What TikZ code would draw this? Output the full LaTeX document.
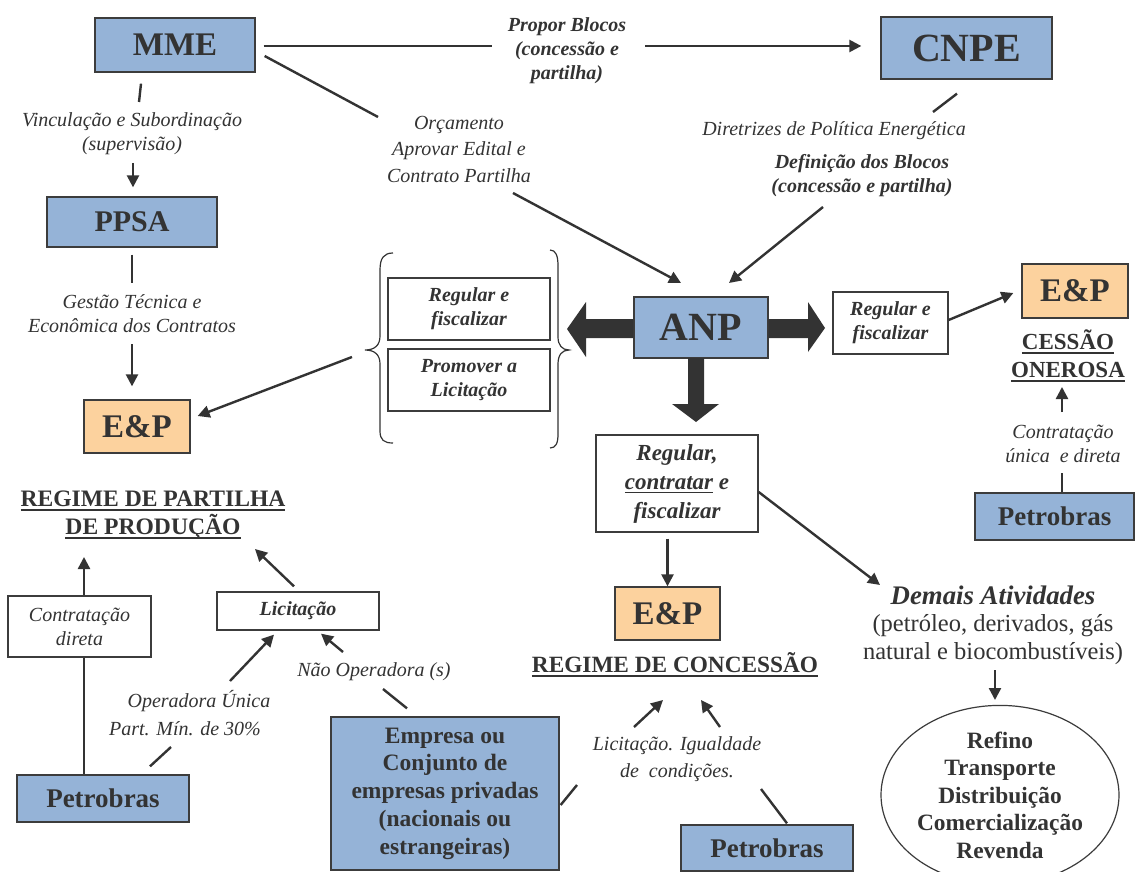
\documentclass[tikz,border=0pt]{standalone}
\usepackage{fontspec}
\setmainfont{Liberation Serif}
\usetikzlibrary{arrows.meta,shapes.geometric}
\definecolor{bx}{HTML}{95B3D7}
\definecolor{orx}{HTML}{FCD29E}
\definecolor{ink}{HTML}{333333}
\definecolor{edgec}{HTML}{3C3C3C}
\newcommand\myfs[2]{\fontsize{#1}{#2}\selectfont}
\newcommand\ulx[1]{\setbox0\hbox{#1}\rlap{\vrule height -2.6pt depth 4.4pt width \wd0}\box0{}}
\tikzset{
  box/.style={draw=edgec, line width=1.3pt, text=ink, inner sep=0pt, align=center},
  bluebox/.style={box, fill=bx},
  orbox/.style={box, fill=orx},
  whbox/.style={box, fill=white},
  lbl/.style={text=ink, inner sep=0pt, align=center},
  con/.style={draw=ink, line width=2.4pt},
  arr/.style={con, -{Triangle[length=12pt,width=12pt]}},
  thick arrow/.style={fill=ink, draw=none},
  brace/.style={draw=ink, line width=1.2pt}
}
\begin{document}
\begin{tikzpicture}[x=1pt,y=-1pt]
\useasboundingbox (0,0) rectangle (1136,872);
\fill[white] (0,0) rectangle (1136,872);

% ---------- main boxes
\node[bluebox, minimum width=160pt, minimum height=54pt, font=\bfseries\myfs{33}{36}] (mme) at (175,45) {MME};
\node[bluebox, minimum width=171pt, minimum height=62pt, font=\bfseries\myfs{40}{44}] (cnpe) at (966.5,48) {CNPE};
\node[bluebox, minimum width=170pt, minimum height=50pt, font=\bfseries\myfs{30}{32}] (ppsa) at (132,222) {PPSA};
\node[orbox, minimum width=106pt, minimum height=53pt, font=\bfseries\myfs{33}{34}] (epl) at (137,426.5) {E\&P};
\node[bluebox, minimum width=134pt, minimum height=61pt, font=\bfseries\myfs{40}{42}] (anp) at (701,327.5) {ANP};
\node[whbox, minimum width=115pt, minimum height=62pt, font=\bfseries\itshape\myfs{20}{24}] (rfr) at (890.5,323) {Regular e\\fiscalizar};
\node[orbox, minimum width=106pt, minimum height=54pt, font=\bfseries\myfs{33}{34}] (epr) at (1075,291) {E\&P};
\node[bluebox, minimum width=159pt, minimum height=47pt, font=\bfseries\myfs{27}{30}] (petr) at (1054.5,516.5) {Petrobras};
\node[whbox, minimum width=162pt, minimum height=97pt, font=\bfseries\itshape\myfs{23}{29}] (rcf) at (677,483.5) {Regular,\\\ulx{contratar} e\\fiscalizar};
\node[orbox, minimum width=105pt, minimum height=53pt, font=\bfseries\myfs{33}{34}] (epc) at (667.5,613.5) {E\&P};
\node[whbox, minimum width=162pt, minimum height=62pt, font=\bfseries\itshape\myfs{20}{24}] (rf1) at (469,309) {Regular e\\fiscalizar};
\node[whbox, minimum width=162pt, minimum height=62pt, font=\bfseries\itshape\myfs{20}{24}] (prl) at (469,380) {Promover a\\Licitação};
\node[whbox, minimum width=143pt, minimum height=61pt, font=\itshape\myfs{20}{24}] (cd) at (79.5,626.5) {Contratação\\direta};
\node[whbox, minimum width=162pt, minimum height=38pt, font=\bfseries\itshape\myfs{20}{22}] (lic) at (298,611) {Licitação};
\node[bluebox, minimum width=172pt, minimum height=47pt, font=\bfseries\myfs{27}{30}] (petl) at (103,798.5) {Petrobras};
\node[bluebox, minimum width=228pt, minimum height=153pt, font=\bfseries\myfs{23.5}{27.7}] (emp) at (445,793.5) {Empresa ou\\Conjunto de\\empresas privadas\\(nacionais ou\\estrangeiras)};
\node[bluebox, minimum width=172pt, minimum height=46pt, font=\bfseries\myfs{27}{30}] (petb) at (767,848) {Petrobras};
\node[box, ellipse, fill=white, line width=1.2pt, minimum width=238pt, minimum height=170pt, font=\bfseries\myfs{23.4}{27.5}] (ell) at (1000,795) {Refino\\Transporte\\Distribuição\\Comercialização\\Revenda};

% ---------- labels
\node[lbl, font=\bfseries\itshape\myfs{20}{24}] (propor) at (567,51) {Propor Blocos\\(concessão e\\partilha)};
\node[lbl, font=\itshape\myfs{20}{26.5}] (orc) at (459,149) {Orçamento\\Aprovar Edital e\\Contrato Partilha};
\node[lbl, font=\itshape\myfs{20}{24}] (dir) at (834,131) {Diretrizes de Política Energética};
\node[lbl, font=\bfseries\itshape\myfs{20}{24}] (def) at (862,176) {Definição dos Blocos\\(concessão e partilha)};
\node[lbl, font=\itshape\myfs{20}{24}] (vinc) at (132,134) {Vinculação e Subordinação\\(supervisão)};
\node[lbl, font=\itshape\myfs{20}{24}] (gest) at (132,314) {Gestão Técnica e\\Econômica dos Contratos};
\node[lbl, font=\bfseries\myfs{23.6}{28}] (regpart) at (153,515) {\ulx{REGIME DE PARTILHA}\\\ulx{DE PRODUÇÃO}};
\node[lbl, font=\bfseries\myfs{23}{28}] (cess) at (1068,356) {\ulx{CESSÃO}\\\ulx{ONEROSA}};
\node[lbl, font=\itshape\myfs{20}{24}] (cunica) at (1063,444) {Contratação\\única\ \ e direta};
\node[lbl, font=\bfseries\myfs{23.3}{28}] (regconc) at (675,665) {\ulx{REGIME DE CONCESSÃO}};
\node[lbl, font=\bfseries\itshape\myfs{26.8}{28}] (demais) at (993,595) {Demais Atividades};
\node[lbl, font=\myfs{24.5}{28}] (paren) at (993,640) {(petróleo, derivados, gás\\natural e biocombustíveis)};
\node[lbl, font=\itshape\myfs{20}{24}] (opu) at (199,701) {Operadora Única};
\node[lbl, font=\itshape\myfs{20}{24}] (part) at (185,729) {Part. Mín. de 30\%};
\node[lbl, font=\itshape\myfs{20}{24}] (naoop) at (374,672) {Não Operadora (s)};
\node[lbl, font=\itshape\myfs{20}{27}] (licig) at (677,759) {Licitação. Igualdade\\de\ \ condições.};

% ---------- connector end points
\coordinate (c1) at (492,46);  \coordinate (c2) at (645,46);
\coordinate (c3) at (378,117); \coordinate (c4) at (513,193); \coordinate (c5) at (681,283);
\coordinate (c6) at (933,112); \coordinate (c7) at (823,207); \coordinate (c8) at (729,283);
\coordinate (c9) at (139,102); \coordinate (c10) at (133,163);
\coordinate (c11) at (132,283); \coordinate (c12) at (132,344);
\coordinate (c13) at (352,357);
\coordinate (c14) at (1062,473); \coordinate (c15) at (1062,412); \coordinate (c15b) at (1062,387);
\coordinate (c16) at (880,585);
\coordinate (c17) at (995,670); \coordinate (c18) at (995,700);
\coordinate (c19) at (84,557);
\coordinate (c20) at (255,549);
\coordinate (c21) at (230,681); \coordinate (c22) at (171,747);
\coordinate (c23) at (343,652); \coordinate (c24) at (383,689);
\coordinate (c25) at (577,785); \coordinate (c26) at (634,727); \coordinate (c27) at (663,700);
\coordinate (c28) at (720,727); \coordinate (c29) at (701,700); \coordinate (c30) at (761,789);

% ---------- connectors
\draw[con] ([xshift=8pt,yshift=-1pt]mme.east) -- (c1);
\draw[arr] (c2) -- ([xshift=-19pt,yshift=2pt]cnpe.west);
\draw[con] ([xshift=9pt,yshift=-11pt]mme.east) -- (c3);
\draw[arr] (c4) -- (c5);
\draw[con] ([xshift=-9.5pt,yshift=-14pt]cnpe.south) -- (c6);
\draw[arr] (c7) -- (c8);
\draw[con] ([xshift=-34pt,yshift=-11pt]mme.south) -- (c9);
\draw[arr] (c10) -- ([xshift=1pt,yshift=9pt]ppsa.north);
\draw[con] ([yshift=-7pt]ppsa.south) -- (c11);
\draw[arr] (c12) -- ([xshift=-5pt,yshift=13pt]epl.north);
\draw[arr] (c13) -- ([xshift=7pt,yshift=10.5pt]epl.east);
\draw[arr] ([yshift=3pt]rfr.east) -- ([xshift=-8pt,yshift=-2pt]epr.west);
\draw[con] ([xshift=7.5pt]petr.north) -- (c14);
\draw[arr] (c15) -- (c15b);
\draw[arr] ([yshift=-6pt]rcf.south -| epc.north) -- (epc.north);
\draw[arr] ([yshift=-8.5pt]rcf.east) -- (c16);
\draw[arr] (c17) -- (c18);
\draw[arr] ([xshift=4.5pt]cd.north) -- (c19);
\draw[con] ([xshift=4.5pt]cd.south) -- ([xshift=-19pt]petl.north);
\draw[arr] ([yshift=5pt,xshift=-4pt]lic.north) -- (c20);
\draw[arr] (c21) -- ([xshift=-24pt,yshift=-4pt]lic.south);
\draw[con] ([xshift=47pt,yshift=8pt]petl.north) -- (c22);
\draw[arr] (c23) -- ([xshift=23pt,yshift=-3pt]lic.south);
\draw[con] (c24) -- ([xshift=-38pt,yshift=8pt]emp.north);
\draw[con] ([xshift=1pt,yshift=-11.5pt]emp.east) -- (c25);
\draw[arr] (c26) -- (c27);
\draw[arr] (c28) -- (c29);
\draw[con] (c30) -- ([xshift=20pt,yshift=1pt]petb.north);

% ---------- thick arrows out of ANP
\fill[thick arrow] (anp.west |- 0,319) -- (586,319) -- (586,302) -- (567,329) -- (586,357) -- (586,338) -- (anp.west |- 0,338) -- cycle;
\fill[thick arrow] (anp.east |- 0,319) -- (808,319) -- (808,302) -- (825,328) -- (808,352) -- (808,338) -- (anp.east |- 0,338) -- cycle;
\fill[thick arrow] (688,358) -- (688,404) -- (672,404) -- (696,422) -- (719,404) -- (704,404) -- (704,358) -- cycle;

% ---------- braces
\draw[brace] (393,253) .. controls (384,253) and (380,258) .. (380,270) -- (380,336) .. controls (380,345) and (375,350) .. (365,350) .. controls (375,350) and (380,355) .. (380,364) -- (380,431) .. controls (380,440) and (384,443) .. (393,443);
\draw[brace] (550,250) .. controls (556,250) and (558,256) .. (558,266) -- (558,337) .. controls (558,345) and (562,350) .. (569,350) .. controls (562,350) and (558,355) .. (558,364) -- (558,434) .. controls (558,443) and (556,448) .. (550,448);
\end{tikzpicture}
\end{document}
